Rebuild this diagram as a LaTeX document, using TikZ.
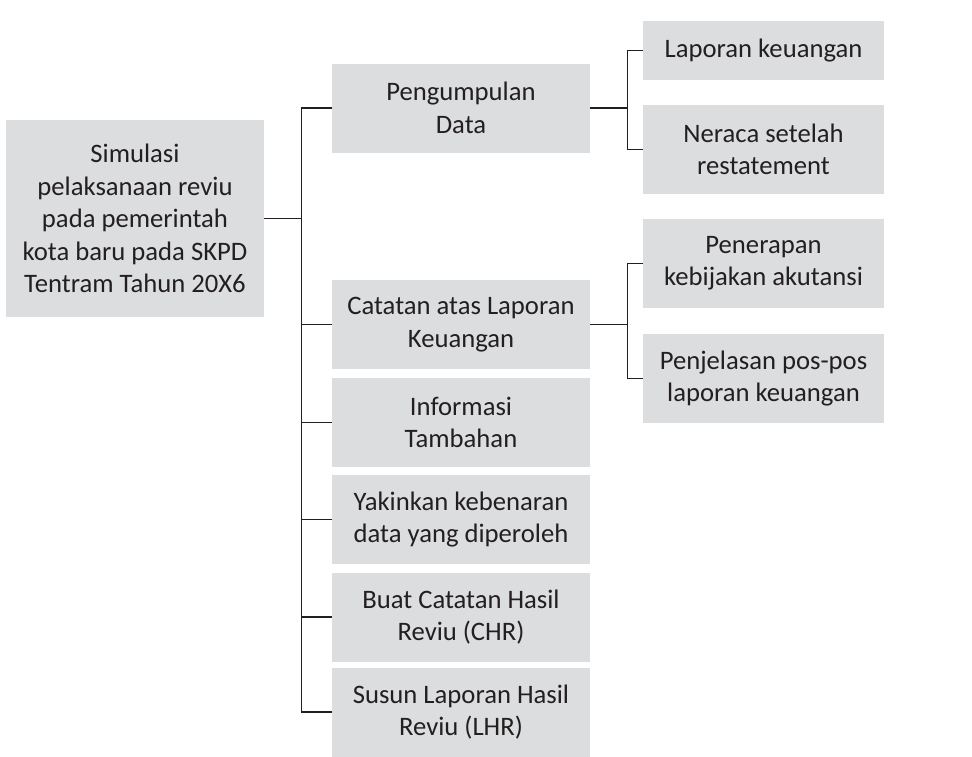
\documentclass[tikz,border=0pt]{standalone}
\usepackage{fontspec}
\setmainfont{Carlito}
\definecolor{boxgray}{HTML}{DCDDDE}
\definecolor{inkgray}{HTML}{231F20}
\tikzset{
  box/.style={fill=boxgray, inner sep=0pt, align=center, text=inkgray,
    font=\fontsize{20}{24.3}\selectfont},
  link/.style={draw=inkgray, line width=0.9pt}
}
\begin{document}
\begin{tikzpicture}[x=0.75pt,y=-0.75pt,line join=round]
\def\u{0.75pt}
\useasboundingbox (0,0) rectangle (972,757);
\node[box, minimum width=258*\u, minimum height=197*\u] (root) at (135,218.5)
  {Simulasi\\pelaksanaan reviu\\pada pemerintah\\kota baru pada SKPD\\Tentram Tahun 20X6};
\foreach \n/\y/\t in {pd/108/{Pengumpulan\\Data},
                      calk/324.5/{Catatan atas Laporan\\Keuangan},
                      info/422.5/{Informasi\\Tambahan},
                      yakin/519.5/{Yakinkan kebenaran\\data yang diperoleh},
                      chr/617/{Buat Catatan Hasil\\Reviu (CHR)},
                      lhr/712/{Susun Laporan Hasil\\Reviu (LHR)}}
  {\node[box, minimum width=258*\u, minimum height=89*\u] (\n) at (461,\y) {\t};}
\node[box, minimum width=241*\u, minimum height=59*\u] (lk) at (763.5,50.5) {Laporan keuangan};
\foreach \n/\y/\t in {neraca/149.5/{Neraca setelah\\restatement},
                      terap/263.5/{Penerapan\\kebijakan akutansi},
                      jelas/378.5/{Penjelasan pos-pos\\laporan keuangan}}
  {\node[box, minimum width=241*\u, minimum height=89*\u] (\n) at (763.5,\y) {\t};}
\draw[link] (root.east) -- ++(37,0) coordinate (tr);
\draw[link] (tr |- pd.west) -- (tr |- lhr.west);
\foreach \n in {pd,calk,info,yakin,chr,lhr}{\draw[link] (tr |- \n.west) -- (\n.west);}
\draw[link] (pd.east) -- ++(37,0) coordinate (b1);
\draw[link] (b1 |- lk.west) -- (b1 |- neraca.west);
\foreach \n in {lk,neraca}{\draw[link] (b1 |- \n.west) -- (\n.west);}
\draw[link] (calk.east) -- ++(37,0) coordinate (b2);
\draw[link] (b2 |- terap.west) -- (b2 |- jelas.west);
\foreach \n in {terap,jelas}{\draw[link] (b2 |- \n.west) -- (\n.west);}
\end{tikzpicture}
\end{document}
